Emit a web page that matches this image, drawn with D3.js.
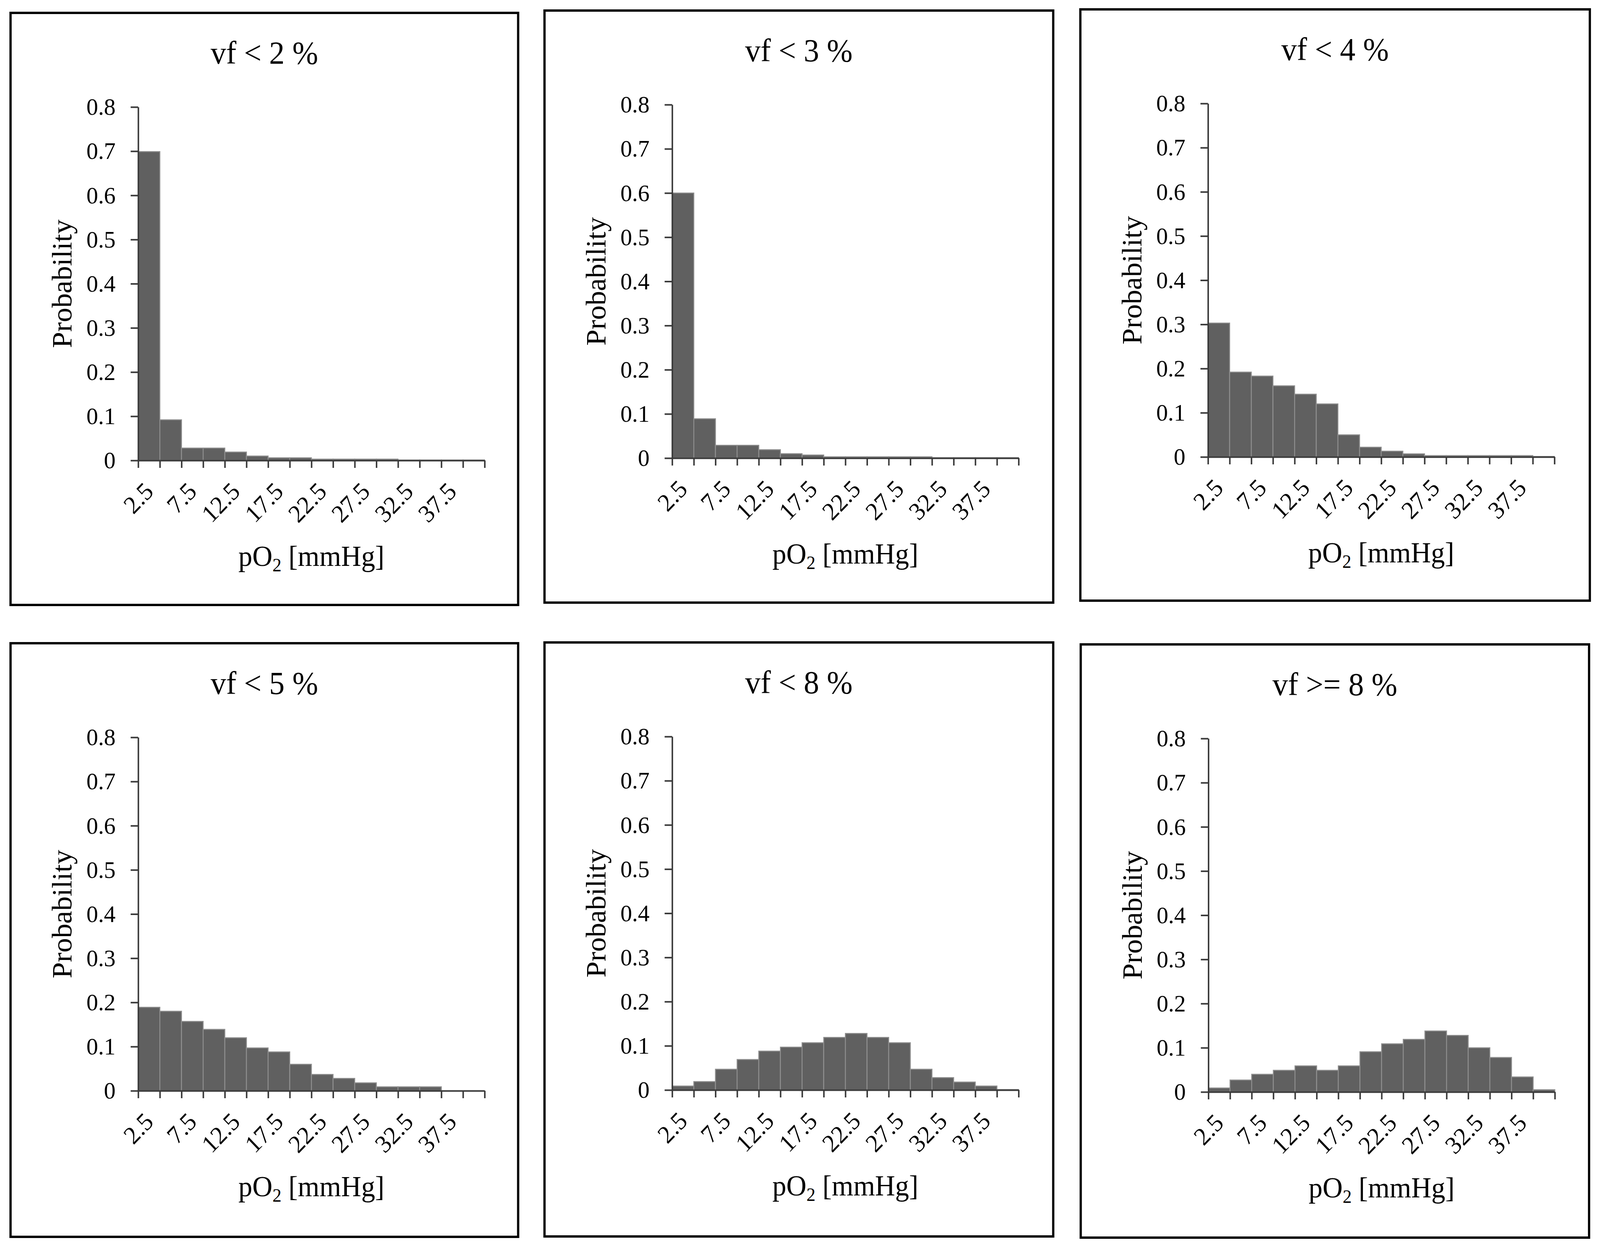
<!DOCTYPE html>
<html>
<head>
<meta charset="utf-8">
<script src="https://cdn.jsdelivr.net/npm/d3@7"></script>
<style>
  html, body { margin: 0; padding: 0; background: #fff; overflow: hidden; }
  svg { display: block; width: 100vw; height: 100vh; }
</style>
</head>
<body>
<div id="chart"></div>
<script>
// pO2 bin centres (mmHg); every other one carries a label
const bins = ["2.5", "5", "7.5", "10", "12.5", "15", "17.5", "20", "22.5", "25", "27.5", "30", "32.5", "35", "37.5", "40"];
const yTicks = [0, 0.1, 0.2, 0.3, 0.4, 0.5, 0.6, 0.7, 0.8];

const titles = ["vf < 2 %", "vf < 3 %", "vf < 4 %", "vf < 5 %", "vf < 8 %", "vf >= 8 %"];

// probability per bin
const vf2 = [0.699, 0.092, 0.028, 0.028, 0.019, 0.010, 0.006, 0.006, 0.003, 0.003, 0.003, 0.003, 0.001, 0.001, 0.001, 0.001];
const vf3 = [0.600, 0.089, 0.029, 0.029, 0.019, 0.010, 0.007, 0.003, 0.003, 0.003, 0.003, 0.003, 0.001, 0.001, 0.001, 0.001];
const vf4 = [0.303, 0.192, 0.183, 0.161, 0.142, 0.120, 0.050, 0.022, 0.013, 0.007, 0.003, 0.003, 0.003, 0.003, 0.003, 0.001];
const vf5 = [0.189, 0.180, 0.157, 0.139, 0.120, 0.097, 0.088, 0.060, 0.037, 0.028, 0.018, 0.009, 0.009, 0.009, 0, 0];
const vf8 = [0.009, 0.019, 0.047, 0.069, 0.088, 0.097, 0.107, 0.119, 0.128, 0.119, 0.107, 0.047, 0.028, 0.018, 0.009, 0.001];
const vf8plus = [0.009, 0.027, 0.040, 0.049, 0.059, 0.049, 0.059, 0.091, 0.109, 0.119, 0.138, 0.128, 0.100, 0.078, 0.034, 0.005];

const series = [vf2, vf3, vf4, vf5, vf8, vf8plus];

// page and panel layout
const width = 4249;
const height = 3193;
const frames = [
    { x: 28, y: 33, w: 1348, h: 1516 },
    { x: 1446, y: 27, w: 1351, h: 1516 },
    { x: 2869, y: 24, w: 1353, h: 1514 },
    { x: 28, y: 1647, w: 1348, h: 1520 },
    { x: 1446, y: 1645, w: 1351, h: 1521 },
    { x: 2870, y: 1650, w: 1350, h: 1519 }
];
const plot = { left: 339, top: 241, w: 920, h: 905 };
const serif = "'Times New Roman', 'Liberation Serif', serif";

// viewBox stretched over the window so the figure fills it whatever its inner size
const svg = d3.select("#chart").append("svg")
    .attr("viewBox", `0 0 ${width} ${height}`)
    .attr("preserveAspectRatio", "none");

svg.append("rect")
    .attr("width", width)
    .attr("height", height)
    .attr("fill", "#fff");

const x = d3.scaleBand()
    .domain(bins)
    .range([0, plot.w])
    .padding(0);

// tick marks sit on the bin edges, like a category axis
const xEdge = d3.scaleLinear()
    .domain([0, bins.length])
    .range([0, plot.w]);

const y = d3.scaleLinear()
    .domain([0, 0.8])
    .range([plot.h, 0]);

series.forEach((values, k) => {
    const f = frames[k];
    const panel = svg.append("g")
        .attr("transform", `translate(${f.x},${f.y})`);

    // panel border
    panel.append("rect")
        .attr("width", f.w)
        .attr("height", f.h)
        .attr("fill", "none")
        .attr("stroke", "#000")
        .attr("stroke-width", 6);

    panel.append("text")
        .attr("x", f.w / 2)
        .attr("y", 130)
        .attr("text-anchor", "middle")
        .attr("font-family", serif)
        .attr("font-size", 82)
        .attr("fill", "#000")
        .text(titles[k]);

    const g = panel.append("g")
        .attr("transform", `translate(${plot.left},${plot.top})`);

    // bars
    g.selectAll("rect.bar")
        .data(values)
        .join("rect")
        .attr("class", "bar")
        .attr("x", (d, i) => x(bins[i]))
        .attr("y", d => y(d))
        .attr("width", x.bandwidth())
        .attr("height", d => plot.h - y(d))
        .attr("fill", "#606060")
        .attr("stroke", "#8e8e8e")
        .attr("stroke-width", 2.5);

    // y axis
    const yAxis = g.append("g")
        .call(d3.axisLeft(y)
            .tickValues(yTicks)
            .tickSize(20)
            .tickSizeOuter(0)
            .tickPadding(40)
            .tickFormat(d => d === 0 ? "0" : d.toFixed(1)));
    yAxis.select(".domain").attr("stroke", "#3a3a3a").attr("stroke-width", 4);
    yAxis.selectAll(".tick line").attr("stroke", "#3a3a3a").attr("stroke-width", 4);
    yAxis.selectAll(".tick text")
        .attr("font-family", serif)
        .attr("font-size", 62)
        .attr("fill", "#000");

    // x axis
    const xAxis = g.append("g")
        .attr("transform", `translate(0,${plot.h})`)
        .call(d3.axisBottom(xEdge)
            .tickValues(d3.range(bins.length + 1))
            .tickSize(19)
            .tickSizeOuter(0)
            .tickFormat(""));
    xAxis.select(".domain").attr("stroke", "#3a3a3a").attr("stroke-width", 4);
    xAxis.selectAll(".tick line").attr("stroke", "#3a3a3a").attr("stroke-width", 4);

    // rotated category labels, every second bin
    g.append("g")
        .selectAll("text")
        .data(bins.filter((b, i) => i % 2 === 0))
        .join("text")
        .attr("transform", d => `translate(${x(d) + x.bandwidth() / 2},${plot.h + 68}) rotate(-45)`)
        .attr("text-anchor", "end")
        .attr("dominant-baseline", "central")
        .attr("font-family", serif)
        .attr("font-size", 64)
        .attr("fill", "#000")
        .text(d => d);

    // axis titles
    g.append("text")
        .attr("transform", `translate(-177,${plot.h / 2}) rotate(-90)`)
        .attr("text-anchor", "middle")
        .attr("font-family", serif)
        .attr("font-size", 74)
        .attr("fill", "#000")
        .text("Probability");

    const xt = g.append("text")
        .attr("x", plot.w / 2)
        .attr("y", plot.h + 270)
        .attr("text-anchor", "middle")
        .attr("font-family", serif)
        .attr("font-size", 74)
        .attr("fill", "#000");
    xt.append("tspan").text("pO");
    xt.append("tspan").attr("font-size", 48).attr("dy", 14).text("2");
    xt.append("tspan").attr("dy", -14).text(" [mmHg]");
});
</script>
</body>
</html>
